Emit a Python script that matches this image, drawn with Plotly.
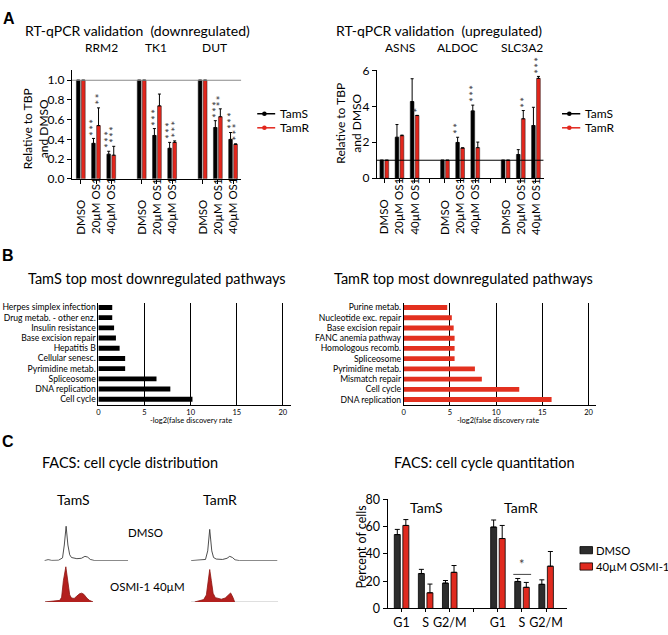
import plotly.graph_objects as go

W, H = 668, 635
FONT = "Lato, 'Open Sans', sans-serif"
BOLD = "'Liberation Sans', Arial, sans-serif"
RED = "#e2261c"

# ── A: RT-qPCR validation ─────────────────────────────────────────────────────
DOSES = ["DMSO", "20µM OS1", "40µM OS1"]
GENES_DOWN = ["RRM2", "TK1", "DUT"]
GENES_UP = ["ASNS", "ALDOC", "SLC3A2"]

DOWN_TAMS = [1.0, 0.36, 0.25, 1.0, 0.44, 0.31, 1.0, 0.52, 0.40]
DOWN_TAMS_ERR = [None, 0.05, 0.03, None, 0.07, 0.06, None, 0.07, 0.07]
DOWN_TAMR = [1.0, 0.54, 0.24, 1.0, 0.74, 0.37, 1.0, 0.63, 0.35]
DOWN_TAMR_ERR = [None, 0.18, 0.09, None, 0.12, 0.015, None, 0.08, 0.005]
DOWN_TAMS_STARS = ["", "***", "***", "", "***", "***", "", "***", "***"]
DOWN_TAMR_STARS = ["", "**", "***", "", "", "***", "", "**", "***"]

UP_TAMS = [1.0, 2.28, 4.27, 1.0, 1.99, 3.75, 1.0, 1.32, 2.93]
UP_TAMS_ERR = [None, 0.71, 1.27, None, 0.29, 0.32, None, 0.27, 1.02]
UP_TAMR = [1.0, 2.37, 3.49, 1.0, 1.68, 1.70, 1.0, 3.31, 5.56]
UP_TAMR_ERR = [None, 0.03, 0.01, None, 0.01, 0.31, None, 0.46, 0.11]
UP_TAMS_STARS = ["", "", "", "", "**", "***", "", "", ""]
UP_TAMR_STARS = ["", "", "*", "", "", "", "", "**", "***"]

# ── B: KEGG pathways (bottom to top) ──────────────────────────────────────────
TAMS_PATHWAYS = ["Cell cycle", "DNA replication", "Spliceosome", "Pyrimidine metab.",
                 "Cellular senesc.", "Hepatitis B", "Base excision repair",
                 "Insulin resistance", "Drug metab. - other enz.", "Herpes simplex infection"]
TAMS_SCORES = [10.2, 7.8, 6.3, 2.9, 2.9, 2.3, 1.9, 1.7, 1.5, 1.5]
TAMR_PATHWAYS = ["DNA replication", "Cell cycle", "Mismatch repair", "Pyrimidine metab.",
                 "Spliceosome", "Homologous recomb.", "FANC anemia pathway",
                 "Base excision repair", "Nucleotide exc. repair", "Purine metab."]
TAMR_SCORES = [16.0, 12.5, 8.45, 7.7, 5.5, 5.5, 5.5, 5.4, 5.2, 4.7]

# ── C: FACS histograms (DNA content a.u. vs counts a.u.) ─────────────────────
HIST_TAMS_DMSO_X = [3, 7, 11, 18.5, 23, 25, 27, 29, 31, 33, 39, 44, 48, 51, 54, 59, 96]
HIST_TAMS_DMSO_Y = [0, 2.5, 0.5, 1, 7, 40, 88, 40, 15, 8, 5, 6, 11, 9, 3, 0, 0]
HIST_TAMR_DMSO_X = [3, 15, 19, 21.5, 23.7, 26, 28, 31, 38, 43, 46, 49, 52, 57, 99]
HIST_TAMR_DMSO_Y = [0, 1, 3, 25, 80, 25, 8, 4, 3, 6, 11, 8, 2, 0, 0]
HIST_TAMS_OSMI_X = [3.5, 10, 20, 22, 24, 26.7, 29, 31, 33, 36, 39, 42, 44.4, 47, 50, 53, 57]
HIST_TAMS_OSMI_Y = [0, 2, 4, 12, 55, 90, 55, 18, 10, 9, 15, 21, 22.5, 19, 10, 4, 0]
HIST_TAMR_OSMI_X = [7, 12, 17, 20, 22, 23.7, 25.5, 27.5, 30, 36.7, 41, 44, 47, 49.5, 51.5]
HIST_TAMR_OSMI_Y = [0, 3, 6, 18, 55, 83, 55, 22, 11, 7, 10, 16, 23, 12, 0]
BASELINE_TAMS_OSMI = [3.5, 57]
BASELINE_TAMR_OSMI = [3, 100]

# ── C: FACS quantitation ─────────────────────────────────────────────────────
PHASES = ["G1", "S", "G2/M"]
CELL_LINES = ["TamS", "TamR"]
FACS_DMSO = [54.2, 25.6, 18.6, 59.7, 19.8, 17.7]
FACS_DMSO_ERR = [3.8, 3.1, 1.9, 5.2, 2.2, 3.3]
FACS_OSMI = [60.9, 11.5, 26.5, 51.3, 15.5, 31.0]
FACS_OSMI_ERR = [4.3, 6.4, 5.0, 9.6, 3.6, 10.8]

fig = go.Figure()
ann = []
shapes = []


def text(x, y, s, size, **kw):
    d = dict(x=x / W, y=1 - y / H, xref="paper", yref="paper", text=s, showarrow=False,
             xanchor="center", yanchor="middle",
             font=dict(family=kw.pop("family", FONT), size=size, color=kw.pop("color", "black")))
    d.update(kw)
    ann.append(d)


def base_axis(**kw):
    d = dict(showgrid=False, zeroline=False, fixedrange=True, showline=True, linecolor="black",
             linewidth=1, ticks="outside", ticklen=4, tickcolor="black",
             tickfont=dict(family=FONT, size=12, color="black"))
    d.update(kw)
    return d


SLOTS = [4 * g + d for g in range(3) for d in range(3)]


def qpcr(ax, tams, tams_err, tamr, tamr_err, s_stars, r_stars):
    xa, ya = ("x", "y") if ax == "1" else ("x" + ax, "y" + ax)
    for vals, errs, stars, color, off in [(tams, tams_err, s_stars, "black", -0.29),
                                          (tamr, tamr_err, r_stars, RED, 0.04)]:
        fig.add_trace(go.Bar(
            x=SLOTS, y=vals, width=0.25, offset=off,
            marker=dict(color=color, line=dict(color="#222", width=0.5)),
            error_y=dict(type="data", array=errs, arrayminus=[0] * 9, symmetric=False,
                         color="black", thickness=1, width=1.5),
            xaxis=xa, yaxis=ya, showlegend=False))
        for s, v, e, st in zip(SLOTS, vals, errs, stars):
            if st:
                ann.append(dict(x=s + off + 0.125, y=v + (e or 0), xref=xa, yref=ya,
                                text="\u2009".join(st), textangle=-90, showarrow=False,
                                yanchor="bottom", xanchor="center", yshift=1, xshift=0.5,
                                font=dict(family=FONT, size=11, color="#333")))
    for s in SLOTS:
        ann.append(dict(x=s, xref=xa, y=1 - 234 / H, yref="paper", text=DOSES[s % 4],
                        textangle=-90, showarrow=False, yanchor="bottom", xanchor="center",
                        font=dict(family=FONT, size=11.5, color="black")))


qpcr("1", DOWN_TAMS, DOWN_TAMS_ERR, DOWN_TAMR, DOWN_TAMR_ERR, DOWN_TAMS_STARS, DOWN_TAMR_STARS)
qpcr("2", UP_TAMS, UP_TAMS_ERR, UP_TAMR, UP_TAMR_ERR, UP_TAMS_STARS, UP_TAMR_STARS)

# reference lines at 1.0
shapes.append(dict(type="line", xref="x", yref="y", x0=-0.59, x1=10.54, y0=1, y1=1,
                   line=dict(color="#8a8a8a", width=1.2)))
shapes.append(dict(type="line", xref="x2", yref="y2", x0=-0.49, x1=10.51, y0=1, y1=1,
                   line=dict(color="black", width=1)))

# ── B bars ──
fig.add_trace(go.Bar(x=TAMS_SCORES, y=TAMS_PATHWAYS, orientation="h", width=0.48,
                     marker=dict(color="black", line=dict(width=0)), xaxis="x3", yaxis="y3",
                     showlegend=False))
fig.add_trace(go.Bar(x=TAMR_SCORES, y=TAMR_PATHWAYS, orientation="h", width=0.48,
                     marker=dict(color="#e3301f", line=dict(width=0)), xaxis="x4", yaxis="y4",
                     showlegend=False))

# ── C histograms ──
for xs, ys, ax in [(HIST_TAMS_DMSO_X, HIST_TAMS_DMSO_Y, "6"), (HIST_TAMR_DMSO_X, HIST_TAMR_DMSO_Y, "7")]:
    fig.add_trace(go.Scatter(x=xs, y=ys, mode="lines", line=dict(color="#3a3a3a", width=0.9),
                             xaxis="x" + ax, yaxis="y" + ax, showlegend=False))
for xs, ys, bl, ax in [(HIST_TAMS_OSMI_X, HIST_TAMS_OSMI_Y, BASELINE_TAMS_OSMI, "8"),
                       (HIST_TAMR_OSMI_X, HIST_TAMR_OSMI_Y, BASELINE_TAMR_OSMI, "9")]:
    fig.add_trace(go.Scatter(x=bl, y=[0, 0], mode="lines", line=dict(color="#c8c8c8", width=1),
                             xaxis="x" + ax, yaxis="y" + ax, showlegend=False))
    fig.add_trace(go.Scatter(x=xs, y=ys, mode="lines", fill="tozeroy", fillcolor="#b3201e",
                             line=dict(color="#8c1512", width=0.8),
                             xaxis="x" + ax, yaxis="y" + ax, showlegend=False))

# ── C quantitation bars ──
QSLOTS = [0, 1, 2, 4, 5, 6]
for vals, errs, color, off in [(FACS_DMSO, FACS_DMSO_ERR, "#2d2d2d", -0.3),
                               (FACS_OSMI, FACS_OSMI_ERR, "#e02a1f", 0.055)]:
    fig.add_trace(go.Bar(x=QSLOTS, y=vals, width=0.25, offset=off,
                         marker=dict(color=color, line=dict(color="black", width=0.8)),
                         error_y=dict(type="data", array=errs, arrayminus=[0] * 6, symmetric=False,
                                      color="black", thickness=1, width=2.5),
                         xaxis="x5", yaxis="y5", showlegend=False))
shapes.append(dict(type="line", xref="x5", yref="y5", x0=4.64, x1=5.38, y0=25, y1=25,
                   line=dict(color="#444", width=1)))
ann.append(dict(x=5.0, y=25, xref="x5", yref="y5", text="*", showarrow=False, yanchor="bottom",
                xanchor="center", font=dict(family=FONT, size=13, color="#444")))

# ── texts ──
text(7, 11, "<b>A</b>", 16, family=BOLD)
text(6, 253, "<b>B</b>", 16, family=BOLD)
text(6.3, 444, "<b>C</b>", 16, family=BOLD)

text(21, 23, "RT-qPCR validation&nbsp;&nbsp;(downregulated)", 14, xanchor="left")
text(333, 23, "RT-qPCR validation&nbsp;&nbsp;(upregulated)", 14, xanchor="left")
for g, cx in zip(GENES_DOWN, [99.5, 154, 213]):
    text(cx, 40, g, 12)
for g, cx in zip(GENES_UP, [399, 457.3, 521.7]):
    text(cx, 40, g, 12)
text(33.7, 123.5, "Relative to TBP<br>and DMSO", 12, textangle=-90)
text(347.5, 118, "Relative to TBP<br>and DMSO", 12, textangle=-90)

# legends for A
for x0, x1 in [(256, 274), (561.7, 580)]:
    for name, color, yy in [(CELL_LINES[0], "black", 108.3), (CELL_LINES[1], RED, 122.7)]:
        shapes.append(dict(type="line", xref="paper", yref="paper", x0=x0 / W, x1=x1 / W,
                           y0=1 - yy / H, y1=1 - yy / H, line=dict(color=color, width=1.5)))
        cx = x0 + 0.4 * (x1 - x0)
        shapes.append(dict(type="circle", xref="paper", yref="paper", x0=(cx - 2.3) / W,
                           x1=(cx + 2.3) / W, y0=1 - (yy + 2.3) / H, y1=1 - (yy - 2.3) / H,
                           fillcolor=color, line=dict(color=color, width=0)))
        text(x1 + 3, yy, name, 12, xanchor="left")

text(155, 277.3, "TamS top most downregulated pathways", 14.5)
text(462.5, 277.3, "TamR top most downregulated pathways", 14.5)
text(190, 422, "-log2(false discovery rate", 7.5)
text(497, 422, "-log2(false discovery rate", 7.5)

text(128.3, 465, "FACS: cell cycle distribution", 14.5)
text(484, 465, "FACS: cell cycle quantitation", 14.5)
text(71.5, 503, CELL_LINES[0], 14)
text(218.7, 503, CELL_LINES[1], 14)
text(144, 536.7, "DMSO", 11.5)
text(146, 592.7, "OSMI-1 40µM", 11.5)
text(425.5, 511.7, CELL_LINES[0], 14)
text(521, 511.7, CELL_LINES[1], 14)
text(360.7, 552, "Percent of cells", 12.5, textangle=-90)

for label, color, yy in [("DMSO", "#2d2d2d", 555.3), ("40µM OSMI-1", "#e02a1f", 572)]:
    shapes.append(dict(type="rect", xref="paper", yref="paper", x0=579.7 / W, x1=592.3 / W,
                       y0=1 - (yy + 3.7) / H, y1=1 - (yy - 3.7) / H, fillcolor=color,
                       line=dict(color="black", width=0.8)))
    text(594.5, yy, label, 11.3, xanchor="left", borderpad=0)

# ── axes ──
hidden = dict(visible=False, fixedrange=True)
layout_axes = dict(
    xaxis=base_axis(domain=[70 / W, 240 / W], range=[-0.59, 10.54], anchor="y",
                    tickvals=SLOTS, showticklabels=False),
    yaxis=base_axis(domain=[1 - 175 / H, 1 - 63.9 / H], range=[0, 1.1], anchor="x",
                    tickvals=[0, 0.2, 0.4, 0.6, 0.8, 1.0], tickformat=".1f"),
    xaxis2=base_axis(domain=[376 / W, 543.3 / W], range=[-0.49, 10.51], anchor="y2",
                     tickvals=list(range(11)), showticklabels=False),
    yaxis2=base_axis(domain=[1 - 174.3 / H, 1 - 64 / H], range=[0, 6], anchor="x2",
                     tickvals=[0, 2, 4, 6]),
    xaxis3=base_axis(domain=[96.7 / W, 290 / W], range=[0, 20.9], anchor="y3",
                     tickvals=[0, 5, 10, 15, 20], showgrid=True, gridcolor="black", gridwidth=1,
                     ticks="", tickfont=dict(family=FONT, size=7.5, color="black")),
    yaxis3=base_axis(domain=[1 - 406.7 / H, 1 - 301.7 / H], range=[-0.575, 9.48], anchor="x3",
                     type="category", ticks="", tickfont=dict(family=FONT, size=8.6, color="black")),
    xaxis4=base_axis(domain=[403 / W, 595.7 / W], range=[0, 20.8], anchor="y4",
                     tickvals=[0, 5, 10, 15, 20], showgrid=True, gridcolor="black", gridwidth=1,
                     ticks="", tickfont=dict(family=FONT, size=7.5, color="black")),
    yaxis4=base_axis(domain=[1 - 406.7 / H, 1 - 301.7 / H], range=[-0.54, 9.48], anchor="x4",
                     type="category", ticks="", tickfont=dict(family=FONT, size=8.6, color="black")),
    xaxis5=base_axis(domain=[386.7 / W, 566.7 / W], range=[-0.58, 6.87], anchor="y5",
                     tickvals=[0, 1, 2, 3, 4, 5, 6], ticktext=PHASES + [""] + PHASES, ticklen=3,
                     tickfont=dict(family=FONT, size=12.5, color="black")),
    yaxis5=base_axis(domain=[1 - 615 / H, 1 - 503.3 / H], range=[0, 80], anchor="x5",
                     tickvals=[0, 20, 40, 60, 80], tickfont=dict(family=FONT, size=12.5, color="black")),
    xaxis6=dict(hidden, domain=[40 / W, 130 / W], range=[0, 100], anchor="y6"),
    yaxis6=dict(hidden, domain=[1 - 566 / H, 1 - 526 / H], range=[0, 100], anchor="x6"),
    xaxis7=dict(hidden, domain=[187 / W, 277 / W], range=[0, 100], anchor="y7"),
    yaxis7=dict(hidden, domain=[1 - 566 / H, 1 - 526 / H], range=[0, 100], anchor="x7"),
    xaxis8=dict(hidden, domain=[40 / W, 130 / W], range=[0, 100], anchor="y8"),
    yaxis8=dict(hidden, domain=[1 - 608.3 / H, 1 - 568.3 / H], range=[0, 100], anchor="x8"),
    xaxis9=dict(hidden, domain=[187 / W, 277 / W], range=[0, 100], anchor="y9"),
    yaxis9=dict(hidden, domain=[1 - 608.3 / H, 1 - 568.3 / H], range=[0, 100], anchor="x9"),
)

fig.update_layout(
    width=W, height=H, margin=dict(l=0, r=0, t=0, b=0),
    paper_bgcolor="white", plot_bgcolor="white",
    barmode="overlay", showlegend=False,
    font=dict(family=FONT, color="black"),
    annotations=ann, shapes=shapes,
    **layout_axes,
)

# drop the browser's default 8px body margin so the figure sits at the page origin
fig.write_html("out.html", config={"displayModeBar": False},
               post_script="document.body.style.margin='0px';")
